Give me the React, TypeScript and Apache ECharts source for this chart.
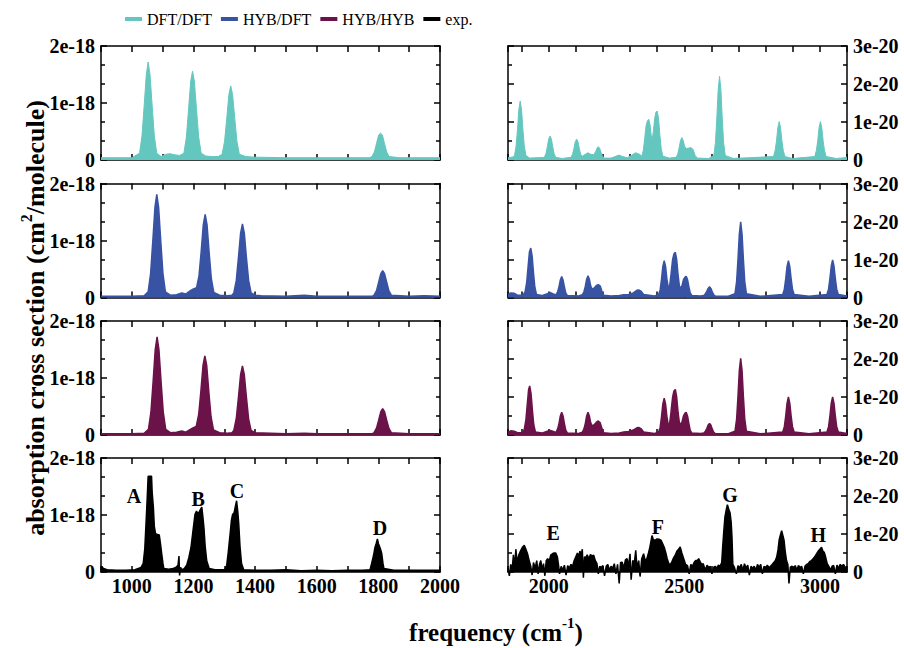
import React, { useEffect, useRef } from "react";
import * as echarts from "echarts";

// ---------- DATA (frequency in cm^-1, cross sections: left panels in 1e-18, right panels in 1e-20 cm^2/molecule) ----------
const seriesNames = ["DFT/DFT", "HYB/DFT", "HYB/HYB", "exp."];
const seriesColors = ["#64c7bf", "#3953a4", "#6b1349", "#000000"];

const leftRange = [900, 2000];
const rightRange = [1850, 3100];
const leftYTicks = [0, 1, 2]; // x 1e-18
const rightYTicks = [0, 1, 2, 3]; // x 1e-20

const dftLeft = [
  [900, 0.04], [1000, 0.04], [1025, 0.12], [1033, 0.42], [1040, 0.95], [1047, 1.5], [1053, 1.72], [1059, 1.5], [1066, 0.95], [1073, 0.42], [1081, 0.12],
  [1095, 0.06], [1110, 0.1], [1124, 0.11], [1140, 0.09], [1155, 0.08],
  [1169, 0.12], [1177, 0.4], [1184, 0.88], [1191, 1.38], [1197, 1.56], [1203, 1.38], [1210, 0.88], [1217, 0.4], [1225, 0.12],
  [1240, 0.07], [1260, 0.06], [1280, 0.06],
  [1293, 0.1], [1301, 0.33], [1308, 0.73], [1315, 1.15], [1321, 1.3], [1327, 1.15], [1334, 0.73], [1341, 0.33], [1349, 0.1],
  [1370, 0.06], [1400, 0.05], [1500, 0.04], [1600, 0.04], [1700, 0.04], [1770, 0.04],
  [1779, 0.06], [1787, 0.14], [1794, 0.29], [1801, 0.44], [1807, 0.47], [1813, 0.44], [1820, 0.29], [1827, 0.14], [1835, 0.06], [1870, 0.04], [2000, 0.04],
];

const hybDftLeft = [
  [900, 0.02], [1000, 0.02], [1040, 0.03],
  [1053, 0.1], [1061, 0.42], [1068, 0.98], [1075, 1.58], [1081, 1.81], [1087, 1.58], [1094, 0.98], [1101, 0.42], [1109, 0.1],
  [1125, 0.04], [1145, 0.05], [1162, 0.08], [1175, 0.06], [1190, 0.12], [1200, 0.15],
  [1210, 0.17], [1218, 0.38], [1225, 0.8], [1232, 1.28], [1238, 1.46], [1244, 1.28], [1251, 0.78], [1258, 0.33], [1266, 0.09],
  [1285, 0.04], [1310, 0.03], [1325, 0.04],
  [1331, 0.08], [1339, 0.3], [1346, 0.7], [1353, 1.13], [1359, 1.29], [1365, 1.13], [1372, 0.69], [1379, 0.3], [1387, 0.08],
  [1400, 0.04], [1420, 0.03], [1500, 0.02], [1560, 0.04], [1600, 0.02], [1700, 0.02], [1780, 0.02],
  [1786, 0.04], [1794, 0.12], [1801, 0.27], [1808, 0.42], [1814, 0.47], [1820, 0.42], [1827, 0.27], [1834, 0.12], [1842, 0.04],
  [1900, 0.02], [1950, 0.03], [2000, 0.02],
];

const hybHybLeft = [
  [900, 0.02], [1000, 0.02], [1040, 0.03],
  [1054, 0.1], [1062, 0.4], [1069, 0.93], [1076, 1.5], [1082, 1.72], [1088, 1.5], [1095, 0.93], [1102, 0.4], [1110, 0.1],
  [1125, 0.04], [1145, 0.05], [1162, 0.07], [1175, 0.05], [1190, 0.1], [1200, 0.13],
  [1209, 0.15], [1217, 0.36], [1224, 0.76], [1231, 1.22], [1237, 1.39], [1243, 1.22], [1250, 0.75], [1257, 0.32], [1265, 0.09],
  [1285, 0.04], [1310, 0.03], [1325, 0.04],
  [1331, 0.08], [1339, 0.29], [1346, 0.66], [1353, 1.06], [1359, 1.21], [1365, 1.06], [1372, 0.65], [1379, 0.28], [1387, 0.08],
  [1400, 0.04], [1500, 0.02], [1560, 0.03], [1600, 0.02], [1700, 0.02], [1780, 0.02],
  [1786, 0.04], [1794, 0.12], [1801, 0.26], [1808, 0.41], [1814, 0.46], [1820, 0.41], [1827, 0.26], [1834, 0.12], [1842, 0.04],
  [1900, 0.02], [2000, 0.02],
];

const expLeft = [
  [900, 0.04], [903, 0.1], [908, 0.06], [920, 0.04], [950, 0.03], [980, 0.03], [1010, 0.04], [1030, 0.08],
  [1037, 0.15], [1042, 0.4], [1046, 0.84], [1050, 1.3], [1053, 1.68], [1058, 1.68], [1064, 1.68], [1066, 1.4], [1070, 1.13],
  [1073, 0.8], [1077, 0.67], [1083, 0.66], [1089, 0.65], [1093, 0.5], [1097, 0.32], [1101, 0.15], [1104, 0.06],
  [1120, 0.05], [1134, 0.06], [1145, 0.09], [1150, 0.12], [1153, 0.28], [1155, -0.06], [1158, 0.08], [1162, 0.04], [1170, 0.06],
  [1178, 0.12], [1185, 0.25], [1192, 0.43], [1198, 0.7], [1205, 1.01], [1210, 1.07], [1214, 1.02], [1219, 1.06], [1223, 1.1],
  [1227, 1.14], [1230, 1.0], [1234, 0.78], [1238, 0.45], [1243, 0.2], [1251, 0.06], [1270, 0.04], [1302, 0.04],
  [1308, 0.12], [1313, 0.35], [1319, 0.67], [1323, 0.9], [1327, 1.01], [1332, 1.04], [1336, 1.15], [1340, 1.25], [1344, 1.05],
  [1347, 0.84], [1351, 0.45], [1356, 0.15], [1363, 0.04], [1400, 0.03], [1450, 0.03], [1500, 0.04], [1550, 0.02], [1600, 0.03],
  [1650, 0.02], [1700, 0.03], [1750, 0.03], [1773, 0.04], [1778, 0.145], [1784, 0.28], [1789, 0.43], [1793, 0.5], [1797, 0.58],
  [1800, 0.5], [1803, 0.46], [1807, 0.4], [1811, 0.32], [1815, 0.15], [1818, 0.06], [1850, 0.03], [1900, 0.03], [1950, 0.03], [2000, 0.03],
];

const dftRight = [
  [1850, 0.06], [1868, 0.08], [1874, 0.12], [1880, 0.37], [1885, 0.8], [1890, 1.32], [1895, 1.55], [1900, 1.32], [1905, 0.8], [1910, 0.37], [1916, 0.12], [1930, 0.05],
  [1984, 0.07], [1990, 0.17], [1995, 0.35], [2000, 0.55], [2005, 0.63], [2010, 0.55], [2015, 0.35], [2020, 0.17], [2026, 0.07], [2050, 0.04],
  [2082, 0.07], [2088, 0.15], [2093, 0.3], [2098, 0.48], [2103, 0.55], [2108, 0.48], [2113, 0.3], [2118, 0.15], [2124, 0.1],
  [2135, 0.15], [2145, 0.19], [2155, 0.15], [2165, 0.14],
  [2168, 0.16], [2173, 0.22], [2178, 0.31], [2183, 0.35], [2188, 0.31], [2193, 0.2], [2198, 0.1], [2206, 0.05], [2230, 0.05],
  [2245, 0.09], [2259, 0.13], [2273, 0.09], [2290, 0.06], [2305, 0.12], [2320, 0.19], [2335, 0.15],
  [2344, 0.1], [2349, 0.26], [2354, 0.56], [2359, 0.9], [2364, 1.03], [2369, 1.07], [2374, 0.92], [2378, 0.65], [2382, 0.55],
  [2386, 0.75], [2391, 1.1], [2395, 1.25], [2400, 1.29], [2405, 1.1], [2410, 0.66], [2415, 0.3], [2421, 0.1], [2445, 0.05],
  [2470, 0.07], [2476, 0.16], [2481, 0.32], [2486, 0.51], [2491, 0.59], [2496, 0.51], [2501, 0.36], [2507, 0.3], [2515, 0.31],
  [2525, 0.33], [2533, 0.27], [2540, 0.12], [2548, 0.05],
  [2590, 0.04], [2609, 0.12], [2615, 0.46], [2620, 1.1], [2625, 1.85], [2630, 2.2], [2635, 1.85], [2640, 1.1], [2645, 0.46], [2651, 0.12], [2680, 0.04],
  [2829, 0.09], [2835, 0.25], [2840, 0.5], [2845, 0.85], [2850, 1.01], [2855, 0.85], [2860, 0.5], [2865, 0.25], [2871, 0.09], [2900, 0.04],
  [2981, 0.09], [2987, 0.25], [2992, 0.5], [2997, 0.85], [3002, 1.01], [3007, 0.85], [3012, 0.5], [3017, 0.25], [3023, 0.09],
  [3060, 0.04], [3090, 0.06], [3100, 0.08],
];

const hybDftRight = [
  [1850, 0.08], [1860, 0.12], [1873, 0.11], [1885, 0.06], [1905, 0.06], [1913, 0.15], [1919, 0.4], [1924, 0.8], [1929, 1.2], [1934, 1.3],
  [1939, 1.09], [1944, 0.65], [1949, 0.27], [1955, 0.08], [1975, 0.05], [1995, 0.1], [2005, 0.13], [2015, 0.1],
  [2027, 0.07], [2033, 0.15], [2038, 0.28], [2043, 0.46], [2048, 0.55], [2053, 0.46], [2058, 0.28], [2063, 0.12], [2069, 0.05], [2110, 0.04],
  [2124, 0.07], [2130, 0.15], [2135, 0.29], [2140, 0.48], [2145, 0.57], [2150, 0.48], [2155, 0.3], [2160, 0.22], [2168, 0.25],
  [2175, 0.31], [2183, 0.34], [2190, 0.3], [2196, 0.17], [2203, 0.06], [2230, 0.04],
  [2260, 0.05], [2277, 0.07], [2295, 0.08], [2312, 0.12], [2325, 0.19], [2332, 0.2], [2340, 0.17], [2350, 0.08], [2390, 0.04],
  [2405, 0.07], [2411, 0.2], [2416, 0.48], [2421, 0.82], [2426, 0.97], [2431, 0.82], [2436, 0.48], [2441, 0.27], [2446, 0.3],
  [2451, 0.6], [2457, 1.0], [2462, 1.15], [2467, 1.19], [2472, 1.0], [2477, 0.6], [2482, 0.3], [2487, 0.25], [2492, 0.32],
  [2497, 0.47], [2502, 0.53], [2507, 0.56], [2512, 0.47], [2517, 0.28], [2522, 0.12], [2528, 0.05], [2560, 0.04],
  [2572, 0.05], [2578, 0.1], [2583, 0.16], [2588, 0.24], [2593, 0.28], [2598, 0.24], [2603, 0.15], [2608, 0.08], [2614, 0.04], [2660, 0.03],
  [2687, 0.1], [2693, 0.42], [2698, 1.0], [2703, 1.67], [2708, 1.99], [2713, 1.67], [2718, 1.0], [2723, 0.42], [2729, 0.1], [2780, 0.03],
  [2863, 0.08], [2869, 0.22], [2874, 0.49], [2879, 0.82], [2884, 0.97], [2889, 0.82], [2894, 0.49], [2899, 0.22], [2905, 0.08], [2960, 0.03],
  [3026, 0.08], [3032, 0.22], [3037, 0.5], [3042, 0.83], [3047, 0.99], [3052, 0.83], [3057, 0.5], [3062, 0.22], [3068, 0.08], [3100, 0.04],
];

const hybHybRight = [
  [1850, 0.08], [1860, 0.11], [1873, 0.1], [1885, 0.06], [1905, 0.06], [1910, 0.15], [1916, 0.4], [1921, 0.8], [1926, 1.2], [1930, 1.29],
  [1935, 1.09], [1940, 0.65], [1945, 0.27], [1951, 0.08], [1975, 0.05], [1995, 0.1], [2005, 0.12], [2015, 0.1],
  [2027, 0.07], [2033, 0.16], [2038, 0.3], [2043, 0.5], [2048, 0.6], [2053, 0.5], [2058, 0.3], [2063, 0.13], [2069, 0.05], [2110, 0.04],
  [2124, 0.07], [2130, 0.16], [2135, 0.3], [2140, 0.5], [2145, 0.6], [2150, 0.5], [2155, 0.32], [2160, 0.24], [2168, 0.27],
  [2175, 0.33], [2183, 0.37], [2190, 0.32], [2196, 0.18], [2203, 0.06], [2230, 0.04],
  [2260, 0.05], [2277, 0.08], [2295, 0.09], [2312, 0.13], [2325, 0.19], [2332, 0.2], [2340, 0.17], [2350, 0.08], [2390, 0.04],
  [2405, 0.07], [2411, 0.2], [2416, 0.48], [2421, 0.82], [2426, 0.97], [2431, 0.82], [2436, 0.48], [2441, 0.27], [2446, 0.3],
  [2451, 0.6], [2457, 1.0], [2462, 1.16], [2467, 1.2], [2472, 1.0], [2477, 0.6], [2482, 0.32], [2487, 0.28], [2492, 0.35],
  [2497, 0.5], [2502, 0.57], [2507, 0.6], [2512, 0.5], [2517, 0.3], [2522, 0.12], [2528, 0.05], [2560, 0.04],
  [2572, 0.05], [2578, 0.1], [2583, 0.17], [2588, 0.26], [2593, 0.3], [2598, 0.26], [2603, 0.16], [2608, 0.08], [2614, 0.04], [2660, 0.03],
  [2687, 0.1], [2693, 0.42], [2698, 1.01], [2703, 1.7], [2708, 2.02], [2713, 1.7], [2718, 1.01], [2723, 0.42], [2729, 0.1], [2780, 0.03],
  [2863, 0.08], [2869, 0.22], [2874, 0.5], [2879, 0.84], [2884, 1.0], [2889, 0.84], [2894, 0.5], [2899, 0.22], [2905, 0.08], [2960, 0.03],
  [3026, 0.08], [3032, 0.22], [3037, 0.5], [3042, 0.84], [3047, 1.0], [3052, 0.84], [3057, 0.5], [3062, 0.22], [3068, 0.08], [3100, 0.04],
];

const expRight = [
  [1850, 0.1], [1855, -0.1], [1860, 0.2], [1865, 0.05], [1870, 0.45], [1874, 0.1], [1879, 0.6], [1884, 0.25], [1890, 0.45], [1896, 0.55],
  [1903, 0.65], [1910, 0.7], [1916, 0.6], [1922, 0.48], [1928, 0.3], [1934, 0.15], [1939, -0.08], [1944, 0.25], [1950, 0.1], [1956, 0.3],
  [1961, -0.05], [1966, 0.2], [1971, 0.3], [1976, 0.05], [1981, 0.22], [1986, -0.1], [1991, 0.3], [1996, 0.35], [2002, 0.3], [2008, 0.45],
  [2014, 0.48], [2020, 0.5], [2026, 0.5], [2032, 0.4], [2036, 0.2], [2040, -0.05], [2046, 0.15], [2052, 0.05], [2058, 0.18], [2064, -0.08],
  [2070, 0.17], [2076, 0.1], [2082, 0.2], [2088, 0.15], [2094, 0.3], [2100, 0.4], [2106, 0.5], [2110, 0.38], [2115, 0.55], [2120, 0.45],
  [2124, 0.6], [2128, -0.15], [2132, 0.4], [2137, 0.38], [2142, 0.45], [2148, 0.35], [2154, 0.46], [2160, 0.42], [2166, 0.44], [2172, 0.3],
  [2178, 0.22], [2183, -0.05], [2188, 0.15], [2194, 0.12], [2200, 0.17], [2206, -0.1], [2212, 0.15], [2218, 0.2], [2224, 0.05], [2230, 0.15],
  [2236, 0.1], [2242, 0.22], [2248, -0.05], [2254, 0.2], [2260, -0.3], [2265, 0.25], [2271, 0.26], [2277, 0.1], [2283, 0.32], [2289, 0.35],
  [2294, 0.15], [2300, 0.48], [2304, -0.2], [2310, 0.3], [2316, 0.25], [2321, 0.57], [2326, 0.1], [2332, 0.3], [2337, -0.12], [2343, 0.35],
  [2350, 0.48], [2356, 0.3], [2362, 0.35], [2368, 0.5], [2373, 0.65], [2377, 0.8], [2381, 0.96], [2386, 0.85], [2390, 0.84], [2395, 0.85],
  [2400, 0.87], [2407, 0.86], [2414, 0.84], [2420, 0.75], [2426, 0.65], [2432, 0.5], [2437, 0.35], [2443, 0.22], [2449, 0.2], [2455, 0.28],
  [2461, 0.38], [2467, 0.45], [2473, 0.55], [2479, 0.6], [2485, 0.66], [2491, 0.5], [2498, 0.35], [2505, 0.2], [2512, 0.17], [2518, -0.05],
  [2524, 0.2], [2530, 0.15], [2536, 0.25], [2542, 0.3], [2548, 0.3], [2553, 0.35], [2558, 0.28], [2564, 0.2], [2570, 0.22], [2577, 0.05],
  [2584, 0.18], [2590, 0.12], [2596, 0.15], [2602, -0.05], [2608, 0.12], [2614, 0.15], [2620, 0.1], [2626, 0.18], [2632, 0.15], [2638, 0.25],
  [2642, 0.7], [2646, 1.1], [2650, 1.45], [2655, 1.65], [2659, 1.77], [2664, 1.65], [2669, 1.55], [2673, 1.3], [2676, 0.9], [2679, 0.2],
  [2685, 0.12], [2692, -0.05], [2698, 0.17], [2704, 0.1], [2710, 0.2], [2716, 0.05], [2722, 0.22], [2728, 0.1], [2734, 0.18], [2740, -0.08],
  [2746, 0.15], [2752, 0.1], [2758, 0.15], [2764, 0.05], [2770, 0.2], [2776, 0.12], [2782, 0.2], [2788, -0.05], [2794, 0.15], [2800, 0.1],
  [2806, 0.18], [2812, 0.12], [2818, 0.15], [2824, 0.2], [2830, 0.25], [2836, 0.3], [2841, 0.4], [2846, 0.6], [2850, 0.85], [2854, 0.96],
  [2859, 1.09], [2864, 0.95], [2868, 0.83], [2872, 0.55], [2877, 0.3], [2882, 0.2], [2886, -0.3], [2891, 0.13], [2897, 0.15], [2903, 0.1],
  [2909, 0.17], [2915, 0.05], [2921, 0.17], [2927, 0.12], [2933, 0.15], [2939, -0.05], [2945, 0.15], [2951, 0.2], [2957, 0.22], [2963, 0.28],
  [2969, 0.3], [2975, 0.35], [2981, 0.4], [2988, 0.48], [2994, 0.55], [3000, 0.6], [3006, 0.65], [3011, 0.55], [3016, 0.52], [3021, 0.4],
  [3027, 0.22], [3033, 0.15], [3039, 0.05], [3045, 0.15], [3051, 0.17], [3057, -0.05], [3063, 0.18], [3069, 0.1], [3075, 0.2], [3081, 0.15],
  [3087, 0.2], [3093, 0.12], [3100, 0.13],
];

const expLeftLabels = [
  { name: "A", freq: 1007, value: 1.33 },
  { name: "B", freq: 1215, value: 1.28 },
  { name: "C", freq: 1341, value: 1.42 },
  { name: "D", freq: 1805, value: 0.78 },
];
const expRightLabels = [
  { name: "E", freq: 2017, value: 1.02 },
  { name: "F", freq: 2403, value: 1.19 },
  { name: "G", freq: 2669, value: 2.03 },
  { name: "H", freq: 2994, value: 0.97 },
];

const xTitle = "frequency (cm";
const xTitleSup = "-1";
const yTitle = "absorption cross section (cm";
const yTitleSup = "2";
const yTitleEnd = "/molecule)";

// ---------- LAYOUT ----------
const FONT = "'Liberation Serif', 'Times New Roman', serif";
const rowTops = [46, 183.5, 321, 458];
const rowHeight = 114;
const colLefts = [101, 508];
const colWidth = 339;

export default function App() {
  const ref = useRef<HTMLDivElement>(null);

  useEffect(() => {
    if (!ref.current) return;
    const chart = echarts.init(ref.current, undefined, { renderer: "svg" });

    const leftData = [dftLeft, hybDftLeft, hybHybLeft, expLeft];
    const rightData = [dftRight, hybDftRight, hybHybRight, expRight];

    const grids: any[] = [];
    const xAxes: any[] = [];
    const yAxes: any[] = [];
    const series: any[] = [];

    const axLine = { show: true, onZero: false, lineStyle: { color: "#000", width: 1.5 } };
    const tick = { show: true, inside: true, length: 6, lineStyle: { color: "#000", width: 1.5 } };
    const labelStyle = { fontFamily: FONT, fontWeight: "bold", fontSize: 20, color: "#000" };

    for (let r = 0; r < 4; r++) {
      for (let c = 0; c < 2; c++) {
        const g = r * 2 + c;
        grids.push({ left: colLefts[c], top: rowTops[r], width: colWidth, height: rowHeight, show: false });
        const range = c === 0 ? leftRange : rightRange;
        const xBase: any = {
          gridIndex: g,
          type: "value",
          min: range[0],
          max: range[1],
          axisLine: axLine,
          axisTick: tick,
          splitLine: { show: false },
        };
        if (c === 0) {
          xBase.interval = 100;
        } else {
          xBase.splitNumber = 12;
          xBase.minInterval = 100;
          xBase.maxInterval = 100;
        }
        xAxes.push({
          ...xBase,
          position: "bottom",
          axisLabel: {
            show: r === 3,
            ...labelStyle,
            margin: 4,
            showMinLabel: true,
            showMaxLabel: true,
            hideOverlap: false,
            formatter: (v: number) => {
              const step = c === 0 ? 200 : 500;
              return Math.abs(v % step) < 1e-6 && v > range[0] ? String(v) : "";
            },
          },
        });
        xAxes.push({ ...xBase, position: "top", axisLabel: { show: false } });

        const ticks = c === 0 ? leftYTicks : rightYTicks;
        const exp = c === 0 ? 18 : 20;
        const yBase: any = {
          gridIndex: g,
          type: "value",
          min: ticks[0],
          max: ticks[ticks.length - 1],
          interval: 1,
          axisLine: axLine,
          axisTick: tick,
          minorTick: { show: true, splitNumber: c === 0 ? 3 : 2, length: 4, lineStyle: { color: "#000", width: 1.5 } },
          splitLine: { show: false },
          minorSplitLine: { show: false },
        };
        yAxes.push({
          ...yBase,
          position: c === 0 ? "left" : "right",
          axisLabel: {
            show: true,
            ...labelStyle,
            margin: 6,
            formatter: (v: number) => (v === 0 ? "0" : `${v}e-${exp}`),
          },
        });
        yAxes.push({ ...yBase, position: c === 0 ? "right" : "left", axisLabel: { show: false } });

        const data = c === 0 ? leftData[r] : rightData[r];
        const color = seriesColors[r];
        const s: any = {
          name: seriesNames[r],
          type: "line",
          xAxisIndex: g * 2,
          yAxisIndex: g * 2,
          data,
          showSymbol: false,
          symbol: "none",
          lineStyle: { color, width: r === 0 ? 1 : 1.5 },
          itemStyle: { color },
          areaStyle: { color, opacity: 1 },
          clip: r !== 3,
          z: 2,
        };
        if (r === 3) {
          const labels = c === 0 ? expLeftLabels : expRightLabels;
          s.markPoint = {
            symbol: "circle",
            symbolSize: 0,
            silent: true,
            label: {
              show: true,
              position: "inside",
              formatter: "{b}",
              fontFamily: FONT,
              fontWeight: "bold",
              fontSize: 20,
              color: "#000",
            },
            data: labels.map((l) => ({ name: l.name, coord: [l.freq, l.value] })),
          };
        }
        series.push(s);
      }
    }

    const option: any = {
      animation: false,
      backgroundColor: "#ffffff",
      legend: {
        data: seriesNames,
        top: 6,
        left: 120,
        icon: "rect",
        itemWidth: 17,
        itemHeight: 4,
        itemGap: 9,
        textStyle: { fontFamily: FONT, fontSize: 16, color: "#000" },
        selectedMode: false,
      },
      grid: grids,
      xAxis: xAxes,
      yAxis: yAxes,
      series,
      graphic: [
        {
          type: "text",
          x: 33,
          y: 318,
          rotation: Math.PI / 2,
          style: {
            text: `{a|${yTitle}}{s|${yTitleSup}}{a|${yTitleEnd}}`,
            align: "center",
            verticalAlign: "middle",
            rich: {
              a: { fontFamily: FONT, fontWeight: "bold", fontSize: 26, fill: "#000", lineHeight: 30, verticalAlign: "bottom" },
              s: { fontFamily: FONT, fontWeight: "bold", fontSize: 16, fill: "#000", lineHeight: 30, verticalAlign: "top", padding: [0, 0, 14, 0] },
            },
          },
        },
        {
          type: "text",
          x: 496,
          y: 630,
          style: {
            text: `{a|${xTitle}}{s|${xTitleSup}}{a|)}`,
            align: "center",
            verticalAlign: "middle",
            rich: {
              a: { fontFamily: FONT, fontWeight: "bold", fontSize: 25, fill: "#000", lineHeight: 30, verticalAlign: "bottom" },
              s: { fontFamily: FONT, fontWeight: "bold", fontSize: 15, fill: "#000", lineHeight: 30, verticalAlign: "top", padding: [0, 0, 14, 0] },
            },
          },
        },
      ],
    };

    chart.setOption(option);
    return () => chart.dispose();
  }, []);

  return (
    <div
      ref={ref}
      style={{ position: "absolute", left: 0, top: 0, width: 904, height: 648, background: "#fff" }}
    />
  );
}
